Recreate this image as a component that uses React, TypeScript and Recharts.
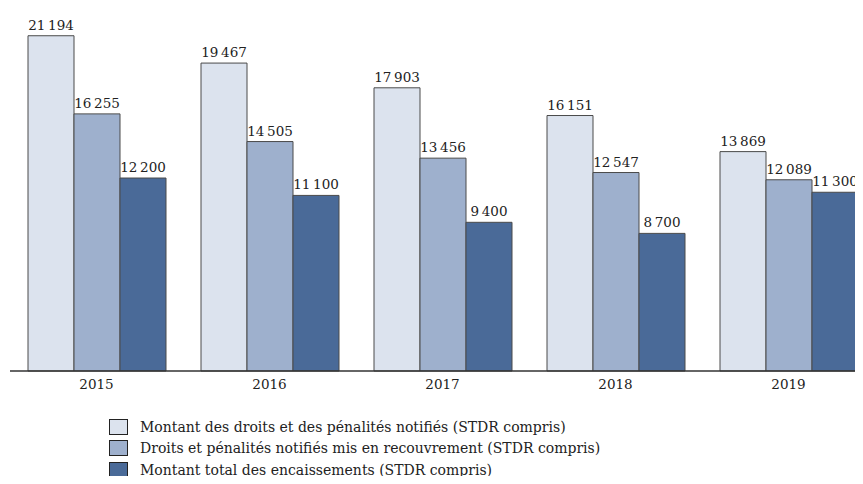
import React from 'react';
import { BarChart, Bar, XAxis, YAxis, LabelList } from 'recharts';

const years = ['2015', '2016', '2017', '2018', '2019'];
const notifies = [21194, 19467, 17903, 16151, 13869];
const recouvrement = [16255, 14505, 13456, 12547, 12089];
const encaissements = [12200, 11100, 9400, 8700, 11300];

const seriesNames = [
  'Montant des droits et des pénalités notifiés (STDR compris)',
  'Droits et pénalités notifiés mis en recouvrement (STDR compris)',
  'Montant total des encaissements (STDR compris)',
];
const seriesKeys = ['notifies', 'recouvrement', 'encaissements'];
const colors = ['#dce3ee', '#9eb0cd', '#4a6a98'];

const FONT = '"DejaVu Serif"';
const FS = 13.5;

const fmt = (v: number) => {
  const s = String(v);
  return s.length > 3 ? s.slice(0, -3) + '\u2009' + s.slice(-3) : s;
};

export default function App() {
  const data = years.map((y, i) => ({
    year: y,
    notifies: notifies[i],
    recouvrement: recouvrement[i],
    encaissements: encaissements[i],
  }));

  return (
    <div
      style={{
        position: 'relative',
        margin: -8,
        width: 863,
        height: 484,
        overflow: 'hidden',
        background: '#fff',
        fontFamily: FONT,
      }}
    >
      <BarChart
        width={880}
        height={401}
        data={data}
        margin={{ top: 23, right: 5, left: 10, bottom: 0 }}
        barGap={0}
        barSize={46}
      >
        <XAxis
          dataKey="year"
          axisLine={{ stroke: '#333', strokeWidth: 1.5 }}
          tickLine={false}
          tick={{ fontSize: FS, fill: '#222', fontFamily: FONT }}
          height={30}
          tickMargin={2}
        />
        <YAxis hide domain={[0, 22000]} />
        {seriesKeys.map((k, i) => (
          <Bar
            key={k}
            dataKey={k}
            name={seriesNames[i]}
            fill={colors[i]}
            stroke="#4a4a4a"
            strokeWidth={1}
            isAnimationActive={false}
          >
            <LabelList
              dataKey={k}
              position="top"
              offset={6}
              formatter={(v: any) => fmt(Number(v))}
              style={{ fontSize: FS, fill: '#222', fontFamily: FONT }}
            />
          </Bar>
        ))}
      </BarChart>
      <div style={{ position: 'absolute', left: 109, top: 416 }}>
        {seriesNames.map((n, i) => (
          <div key={n} style={{ display: 'flex', alignItems: 'center', height: 21.5 }}>
            <span
              style={{
                display: 'inline-block',
                width: 17,
                height: 14,
                background: colors[i],
                border: '1.5px solid #222',
                marginRight: 12,
              }}
            />
            <span style={{ fontSize: 14, color: '#222' }}>{n}</span>
          </div>
        ))}
      </div>
    </div>
  );
}
